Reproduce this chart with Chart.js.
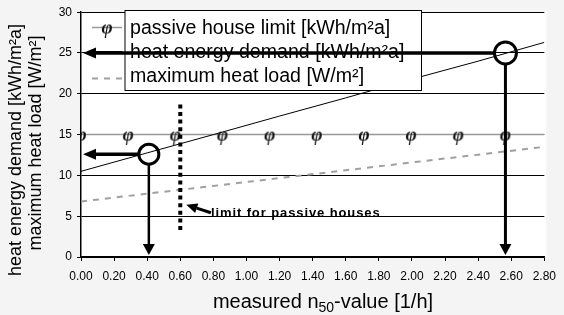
<!DOCTYPE html>
<html><head><meta charset="utf-8">
<script src="https://cdn.jsdelivr.net/npm/chart.js@4/dist/chart.umd.min.js"></script>
<style>html,body{margin:0;padding:0;background:#f4f4f4;}canvas{display:block}</style>
</head><body>
<canvas id="c" width="564" height="315"></canvas>
<script>
// ---- data ----
const xTicks = [0, 0.2, 0.4, 0.6, 0.8, 1.0, 1.2, 1.4, 1.6, 1.8, 2.0, 2.2, 2.4, 2.6, 2.8];
const yTicks = [0, 5, 10, 15, 20, 25, 30];
const seriesNames = ['passive house limit [kWh/m²a]', 'heat energy demand [kWh/m²a]', 'maximum heat load [W/m²]'];
const limitX = [0, 0.285, 0.57, 0.855, 1.14, 1.425, 1.71, 1.995, 2.28, 2.565, 2.8];
const limitY = [15, 15, 15, 15, 15, 15, 15, 15, 15, 15, 15];
const demandX = [0, 0.4, 0.8, 1.2, 1.6, 2.0, 2.4, 2.8];
const demandY = [10.5, 12.76, 15.0, 17.27, 19.5, 21.8, 24.0, 26.3];
const loadX = [0, 0.4, 0.8, 1.2, 1.6, 2.0, 2.4, 2.8];
const loadY = [6.8, 7.76, 8.71, 9.67, 10.63, 11.59, 12.54, 13.5];
const readPointsX = [0.41, 2.565];
const readPointsY = [12.6, 25];
const passiveLimitX = 0.6;
const passiveLimitRange = [2.9, 18.7];
const noteText = 'limit for passive houses';
const noteX = 0.785, noteY = 5.3;
const yTitleLines = ['heat energy demand [kWh/m²a]', 'maximum heat load [W/m²]'];
const xTitleParts = ['measured n', '50', '-value [1/h]'];

const FONT = '"Liberation Sans", Arial, sans-serif';

// marker glyph image
function makeMarker(){
  const c = document.createElement('canvas'); c.width = 18; c.height = 20;
  const g = c.getContext('2d');
  g.font = 'italic bold 19px "Liberation Serif", serif';
  g.textAlign = 'center'; g.textBaseline = 'middle';
  g.fillStyle = '#111';
  g.fillText('φ', 9, 11);
  return c;
}
const marker = makeMarker();

function arrow(ctx, x1, y1, x2, y2, w, hl, hw){
  const ang = Math.atan2(y2 - y1, x2 - x1);
  const bx = x2 - Math.cos(ang) * hl, by = y2 - Math.sin(ang) * hl;
  ctx.lineWidth = w; ctx.strokeStyle = '#000'; ctx.fillStyle = '#000';
  ctx.beginPath(); ctx.moveTo(x1, y1); ctx.lineTo(bx, by); ctx.stroke();
  ctx.beginPath();
  ctx.moveTo(x2, y2);
  ctx.lineTo(bx + Math.sin(ang) * hw / 2, by - Math.cos(ang) * hw / 2);
  ctx.lineTo(bx - Math.sin(ang) * hw / 2, by + Math.cos(ang) * hw / 2);
  ctx.closePath(); ctx.fill();
}

const deco = {
  id: 'deco',
  beforeDraw(chart){
    const {ctx, chartArea: a} = chart;
    ctx.save();
    ctx.fillStyle = '#f4f4f4'; ctx.fillRect(0, 0, chart.width, chart.height);
    ctx.fillStyle = '#ffffff'; ctx.fillRect(a.left, a.top, a.right - a.left + 2, a.bottom - a.top);
    ctx.restore();
  },
  afterDatasetsDraw(chart){
    const {ctx, scales: {x, y}} = chart;
    ctx.save();
    // vertical dotted passive limit
    const px = x.getPixelForValue(passiveLimitX);
    ctx.strokeStyle = '#000'; ctx.lineWidth = 4; ctx.setLineDash([4, 3.6]);
    ctx.beginPath(); ctx.moveTo(px, y.getPixelForValue(passiveLimitRange[1])); ctx.lineTo(px, y.getPixelForValue(passiveLimitRange[0])); ctx.stroke();
    ctx.setLineDash([]);

    // legend box
    const bl = 125, bt = 10.5, br = 421.5, bb = 90.5;
    ctx.fillStyle = '#fff'; ctx.fillRect(bl, bt, br - bl, bb - bt);
    ctx.strokeStyle = '#000'; ctx.lineWidth = 1; ctx.strokeRect(bl, bt, br - bl, bb - bt);
    const rows = [27.5, 51.5, 75.5];
    ctx.font = '19.6px ' + FONT; ctx.fillStyle = '#000'; ctx.textBaseline = 'middle'; ctx.textAlign = 'left';
    seriesNames.forEach((t, i) => ctx.fillText(t, 130, rows[i] + 1));
    // legend samples
    ctx.strokeStyle = '#999'; ctx.lineWidth = 1.5;
    ctx.beginPath(); ctx.moveTo(92, rows[0]); ctx.lineTo(122, rows[0]); ctx.stroke();
    ctx.drawImage(marker, 107 - 9, rows[0] - 10);
    ctx.strokeStyle = '#000'; ctx.lineWidth = 1;
    ctx.beginPath(); ctx.moveTo(92, rows[1]); ctx.lineTo(122, rows[1]); ctx.stroke();
    ctx.strokeStyle = '#a0a0a0'; ctx.lineWidth = 2; ctx.setLineDash([6, 6]);
    ctx.beginPath(); ctx.moveTo(92, rows[2] + 3); ctx.lineTo(122, rows[2] + 3); ctx.stroke();
    ctx.setLineDash([]);

    // read-off circles and arrows
    const x0 = x.getPixelForValue(0), y0 = y.getPixelForValue(0);
    const radii = [10, 11];
    const widths = [2.5, 3];
    readPointsX.forEach((vx, i) => {
      const cx = x.getPixelForValue(vx), cy = y.getPixelForValue(readPointsY[i]);
      const r = radii[i];
      arrow(ctx, cx - r, cy, x0 + 2, cy, 3.5, 13, 11);
      arrow(ctx, cx, cy + r, cx, y0 - 2, widths[i], 11, 12);
      ctx.strokeStyle = '#000'; ctx.lineWidth = 3;
      ctx.beginPath(); ctx.arc(cx, cy, r, 0, Math.PI * 2); ctx.stroke();
    });

    // note
    const nx = x.getPixelForValue(noteX), ny = y.getPixelForValue(noteY);
    ctx.font = 'bold 13px ' + FONT; ctx.fillStyle = '#000';
    ctx.letterSpacing = '0.9px';
    ctx.textAlign = 'left'; ctx.textBaseline = 'middle';
    ctx.fillText(noteText, nx, ny);
    ctx.letterSpacing = '0px';
    arrow(ctx, nx, ny - 1, px + 6, ny - 9, 3, 11, 10);

    // y-axis title
    ctx.font = '18px ' + FONT; ctx.textAlign = 'center'; ctx.textBaseline = 'middle';
    ctx.save(); ctx.translate(16, 150); ctx.rotate(-Math.PI / 2); ctx.fillText(yTitleLines[0], 0, 0); ctx.restore();
    ctx.save(); ctx.translate(36, 143); ctx.rotate(-Math.PI / 2); ctx.fillText(yTitleLines[1], 0, 0); ctx.restore();

    // x-axis title with subscript
    const big = '20px ' + FONT, small = '14px ' + FONT;
    ctx.font = big; const w0 = ctx.measureText(xTitleParts[0]).width, w2 = ctx.measureText(xTitleParts[2]).width;
    ctx.font = small; const w1 = ctx.measureText(xTitleParts[1]).width;
    let tx = 323 - (w0 + w1 + w2) / 2; const ty = 302;
    ctx.textAlign = 'left'; ctx.textBaseline = 'alphabetic';
    ctx.font = big; ctx.fillText(xTitleParts[0], tx, ty + 6); tx += w0;
    ctx.font = small; ctx.fillText(xTitleParts[1], tx, ty + 10); tx += w1;
    ctx.font = big; ctx.fillText(xTitleParts[2], tx, ty + 6);
    ctx.restore();
  }
};

new Chart(document.getElementById('c'), {
  type: 'scatter',
  data: {
    datasets: [
      { label: seriesNames[0], data: limitX.map((v, i) => ({x: v, y: limitY[i]})), showLine: true,
        borderColor: '#999', borderWidth: 1.5, pointStyle: marker,
        pointRadius: limitX.map((v, i) => i < limitX.length - 1 ? 9 : 0), order: 3 },
      { label: seriesNames[1], data: demandX.map((v, i) => ({x: v, y: demandY[i]})), showLine: true,
        borderColor: '#000', borderWidth: 1, pointRadius: 0, order: 2 },
      { label: seriesNames[2], data: loadX.map((v, i) => ({x: v, y: loadY[i]})), showLine: true,
        borderColor: '#a0a0a0', borderWidth: 2, borderDash: [6, 6], pointRadius: 0, order: 1 }
    ]
  },
  options: {
    responsive: false, animation: false, devicePixelRatio: 1,
    layout: { padding: { left: 0, right: 13, top: 10, bottom: 0 } },
    plugins: { legend: { display: false }, tooltip: { enabled: false } },
    scales: {
      x: {
        type: 'linear', min: 0, max: 2.8,
        afterBuildTicks: s => { s.ticks = xTicks.map(v => ({value: v})); },
        afterFit: s => { s.height = 58; },
        ticks: { callback: v => Number(v).toFixed(2), font: { size: 12, family: FONT }, color: '#000', padding: 8, maxRotation: 0, autoSkip: false },
        grid: { drawOnChartArea: false, tickLength: 4, color: '#000', lineWidth: 1 },
        border: { color: '#000', width: 1.5 }
      },
      y: {
        type: 'linear', min: 0, max: 30,
        afterBuildTicks: s => { s.ticks = yTicks.map(v => ({value: v})); },
        afterFit: s => { s.width = 81; },
        ticks: { font: { size: 12, family: FONT }, color: '#000', padding: 5 },
        grid: { color: '#000', lineWidth: 1, tickLength: 4 },
        border: { color: '#000', width: 1.5 }
      }
    }
  },
  plugins: [deco]
});
</script>
</body></html>
